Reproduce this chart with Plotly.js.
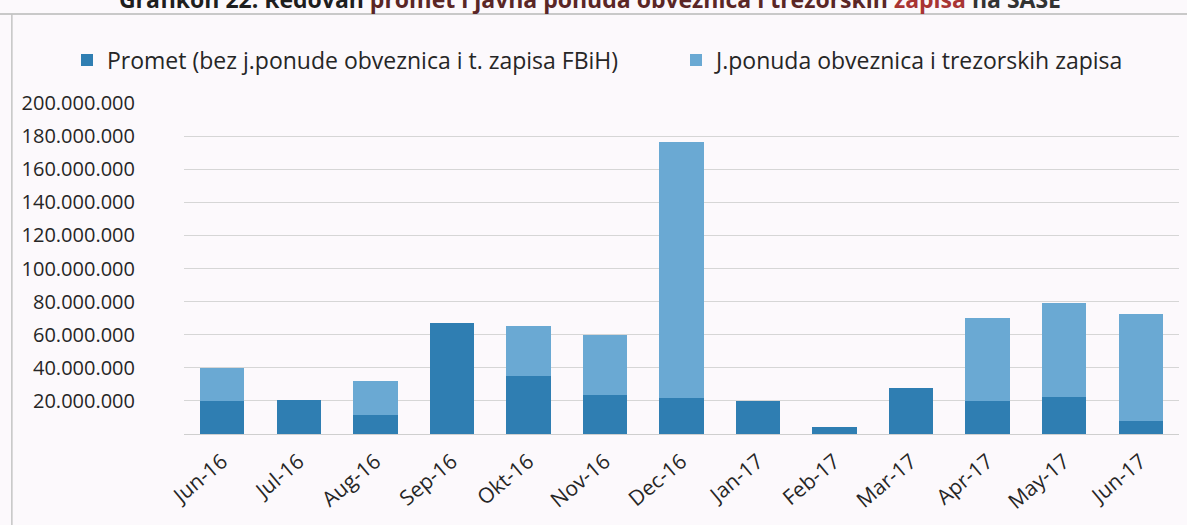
<!DOCTYPE html>
<html>
<head>
<meta charset="utf-8">
<script src="https://cdn.plot.ly/plotly-3.0.1.min.js"></script>
<style>
  html, body { margin: 0; padding: 0; background: #fcf9fc; }
  #chart { width: 1187px; height: 525px; }
</style>
</head>
<body>
<div id="chart"></div>
<script>
// Categories (months)
const months = ["Jun-16", "Jul-16", "Aug-16", "Sep-16", "Okt-16", "Nov-16", "Dec-16",
                "Jan-17", "Feb-17", "Mar-17", "Apr-17", "May-17", "Jun-17"];

// Regular turnover (bottom, dark blue)
const promet = [20000000, 20600000, 11700000, 67300000, 35100000, 23500000, 21500000,
                20200000, 4500000, 27500000, 19800000, 22300000, 7800000];

// Public offering of bonds and treasury bills (top, light blue)
const jPonuda = [20100000, 0, 20300000, 0, 30400000, 36300000, 155000000,
                 0, 0, 0, 50000000, 56900000, 64600000];

// Y axis ticks
const yTicks = [0, 20000000, 40000000, 60000000, 80000000, 100000000,
                120000000, 140000000, 160000000, 180000000, 200000000];
const yTickText = ["", "20.000.000", "40.000.000", "60.000.000", "80.000.000", "100.000.000",
                   "120.000.000", "140.000.000", "160.000.000", "180.000.000", "200.000.000"];

const legendNames = ["Promet (bez j.ponude obveznica i t. zapisa FBiH)",
                     "J.ponuda obveznica i trezorskih zapisa"];

const FONT = "'Open Sans', Lato, sans-serif";

const data = [
  {
    type: "bar", name: legendNames[0], x: months, y: promet,
    marker: { color: "#2f7eb2" }, legend: "legend"
  },
  {
    type: "bar", name: legendNames[1], x: months, y: jPonuda,
    marker: { color: "#6aa9d3" }, legend: "legend2"
  }
];

const legendCommon = {
  orientation: "h",
  xref: "container", yref: "container",
  xanchor: "left", yanchor: "middle",
  y: 1 - 60 / 525,
  font: { family: FONT, size: 23, color: "#262626" },
  itemwidth: 30,
  bgcolor: "rgba(0,0,0,0)"
};

const layout = {
  width: 1187, height: 525,
  barmode: "stack",
  bargap: 0.42,
  paper_bgcolor: "#fcf9fc",
  plot_bgcolor: "rgba(0,0,0,0)",
  margin: { l: 184, r: 8, t: 103, b: 91, pad: 0, autoexpand: false },
  font: { family: FONT, size: 20, color: "#262626" },
  title: {
    text: "<b>Grafikon 22: Redovan <span style='color:#5a2626'>promet i javna ponuda obveznica i trezorskih</span> <span style='color:#a83434'>zapisa</span> <span style='color:#333'>na SASE</span></b>",
    font: { family: FONT, size: 23, color: "#1e1e1e" },
    x: 0.497, xref: "container", xanchor: "center",
    y: 1.0, yref: "container", yanchor: "middle"
  },
  showlegend: true,
  legend: Object.assign({}, legendCommon, { x: 67 / 1187 }),
  legend2: Object.assign({}, legendCommon, { x: 676 / 1187 }),
  xaxis: {
    type: "category",
    tickangle: -40,
    tickfont: { family: FONT, size: 21, color: "#262626" },
    showgrid: false,
    showline: false,
    ticks: "outside", ticklen: 6, tickcolor: "rgba(0,0,0,0)",
    fixedrange: true
  },
  yaxis: {
    range: [0, 200000000],
    tickmode: "array", tickvals: yTicks, ticktext: yTickText,
    tickfont: { family: FONT, size: 20, color: "#262626" },
    showgrid: true, gridcolor: "#d6d6d6", gridwidth: 1,
    zeroline: true, zerolinecolor: "#cfcfcf", zerolinewidth: 1,
    showline: false,
    ticks: "outside", ticklen: 44, tickcolor: "rgba(0,0,0,0)",
    fixedrange: true
  },
  shapes: [
    { type: "line", xref: "paper", yref: "paper", x0: -0.19, x1: 1.01, y0: 1.269, y1: 1.269,
      line: { color: "#b8b8b8", width: 1.5 } },
    { type: "line", xref: "paper", yref: "paper", x0: -0.173, x1: -0.173, y0: -0.28, y1: 1.269,
      line: { color: "#c4c4c4", width: 1.5 } }
  ]
};

Plotly.newPlot("chart", data, layout, { displayModeBar: false, staticPlot: true });
</script>
</body>
</html>
